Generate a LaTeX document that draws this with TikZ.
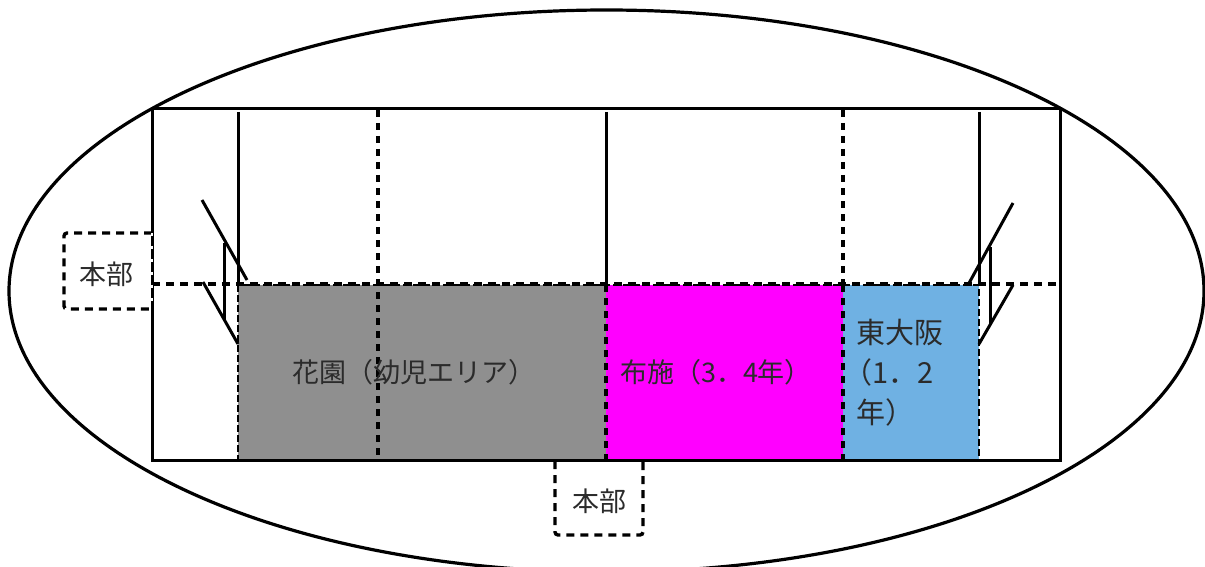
\documentclass[tikz,border=0pt]{standalone}
\usepackage{fontspec}
\usetikzlibrary{shapes.geometric}
\newfontfamily\cjk{Noto Sans CJK JP}[Scale=1]
\definecolor{zonegray}{HTML}{8F8F8F}
\definecolor{zonemag}{HTML}{FF00FF}
\definecolor{zoneblue}{HTML}{6FB1E3}
\definecolor{labelink}{HTML}{2B2B2B}
\tikzset{
  solidline/.style={draw=black,line width=3pt},
  dashline/.style={draw=black,line width=3.4pt,dash pattern=on 8pt off 6pt},
  dotline/.style={draw=black,line width=3.8pt,dash pattern=on 7pt off 6pt},
  edgedash/.style={draw=black,line width=2.6pt,dash pattern=on 7pt off 3pt},
  gapline/.style={draw=white,line width=1.4pt,dash pattern=on 3pt off 10pt},
  zone/.style={inner sep=0pt,outer sep=0pt,anchor=north west},
  lbl/.style={font=\cjk\fontsize{27}{40}\selectfont,text=labelink,inner sep=0pt}
}
\begin{document}
\begin{tikzpicture}[x=1pt,y=-1pt]
\useasboundingbox (0,0) rectangle (1205,567);
\fill[white] (0,0) rectangle (1205,567);
\node[draw=black,line width=3.2pt,ellipse,minimum width=1195pt,minimum height=562pt,inner sep=0pt,outer sep=0pt] (oval) at (606.5,291) {};
\node[zone,fill=zonegray,minimum width=368pt,minimum height=175pt] (gray) at (238,285) {};
\node[zone,fill=zonemag,minimum width=237pt,minimum height=175pt] (mag) at (606,285) {};
\node[zone,fill=zoneblue,minimum width=136pt,minimum height=175pt] (blue) at (843,285) {};
\node[zone,draw=black,line width=3pt,minimum width=908pt,minimum height=351pt] (frame) at (152,109) {};
% solid verticals
\coordinate (a1) at (238,112); \coordinate (a2) at (238,285);
\coordinate (b1) at (606,112); \coordinate (b2) at (606,285);
\coordinate (c1) at (979,112); \coordinate (c2) at (979,285);
\draw[solidline] (a1) -- (a2);
\draw[solidline] (b1) -- (b2);
\draw[solidline] (c1) -- (c2);
% dotted verticals
\coordinate (d1) at (378,110); \coordinate (d2) at (378,460);
\coordinate (e1) at (843,110); \coordinate (e2) at (843,285);
\draw[dotline] (d1) -- (d2);
\draw[dotline] (e1) -- (e2);
% zone edges
\draw[edgedash] (gray.north west) -- (gray.south west) -- (blue.south east) -- (blue.north east) -- cycle;
\draw[dotline] (mag.north west) -- (mag.south west);
\draw[dotline] (mag.north east) -- (mag.south east);
% horizontal dashed
\coordinate (h1) at (152,284); \coordinate (h2) at (1057,284);
\draw[dashline] (h1) -- (h2);
% left door
\coordinate (l1) at (202,200); \coordinate (l2) at (247,280);
\coordinate (l3) at (203,282); \coordinate (l4) at (238,344);
\coordinate (l5) at (224,243); \coordinate (l6) at (224,320);
\draw[solidline] (l1) -- (l2);
\draw[solidline] (l3) -- (l4);
\draw[solidline] (l5) -- (l6);
% right door
\coordinate (r1) at (1013,203); \coordinate (r2) at (968,285);
\coordinate (r3) at (1013,285); \coordinate (r4) at (979,344);
\coordinate (r5) at (990,247); \coordinate (r6) at (990,323);
\draw[solidline] (r1) -- (r2);
\draw[solidline] (r3) -- (r4);
\draw[solidline] (r5) -- (r6);
% honbu boxes
\coordinate (p1) at (152,233); \coordinate (p2) at (64,233);
\coordinate (p3) at (64,309); \coordinate (p4) at (152,309);
\draw[dashline,rounded corners=3pt] (p1) -- (p2) -- (p3) -- (p4);
\draw[gapline] (p1) -- (p4);
\coordinate (q1) at (555,461); \coordinate (q2) at (555,535);
\coordinate (q3) at (643,535); \coordinate (q4) at (643,461);
\draw[dashline,rounded corners=3pt] (q1) -- (q2) -- (q3) -- (q4);
% labels
\node[lbl] (hq1) at (106,274) {本部};
\node[lbl] (hq2) at (599,501) {本部};
\node[lbl] (t1) at (414,372) {花園（幼児エリア）};
\node[lbl] (t2) at (716,372) {布施（3．4年）};
\node[lbl,anchor=north west,align=left,font=\cjk\fontsize{29}{40}\selectfont] (t3) at (856,319) {東大阪\\\kern-13pt（1．2\\年）};
\end{tikzpicture}
\end{document}
